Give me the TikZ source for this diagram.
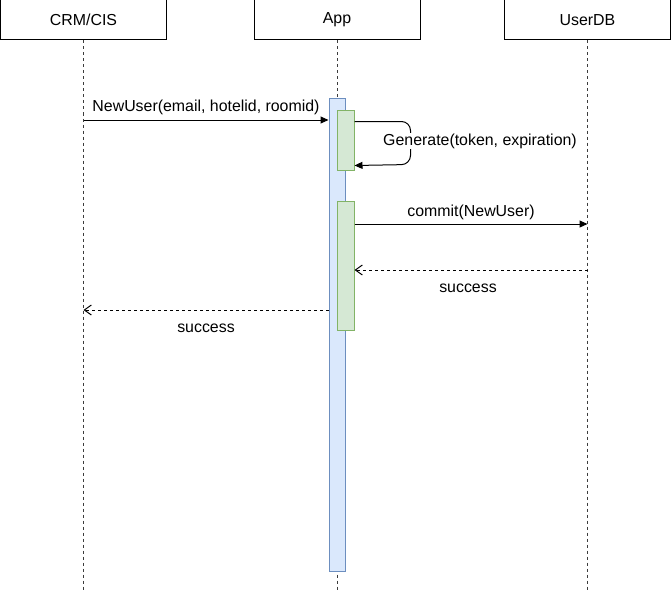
\documentclass[tikz,border=0pt]{standalone}
\usepackage{fontspec}
\setmainfont{Liberation Sans}
\usetikzlibrary{arrows.meta,positioning,calc}
\definecolor{sdBlueL} {HTML}{DAE8FC}
\definecolor{sdBlue}  {HTML}{6C8EBF}
\definecolor{sdGreenL}{HTML}{D5E8D4}
\definecolor{sdGreen} {HTML}{82B366}
\definecolor{sdGrey}  {RGB}{ 60, 60, 60}

\begin{document}
\begin{tikzpicture}[
  x=1pt,y=-1pt,
  font=\fontsize{15.9}{19}\selectfont,
  actor/.style={rectangle,draw=black,fill=white,line width=1pt,
                minimum width=166pt,minimum height=40pt,inner sep=0pt},
  life/.style={draw=sdGrey,line width=1pt,dash pattern=on 3pt off 3pt},
  bar/.style={rectangle,draw=sdBlue,fill=sdBlueL,line width=1pt,
              minimum width=16pt,inner sep=0pt},
  act/.style={rectangle,draw=sdGreen,fill=sdGreenL,line width=1pt,
              minimum width=17pt,inner sep=0pt},
  call/.style={draw=black,line width=1pt,-{Triangle[length=8pt,width=7pt]}},
  reply/.style={draw=black,line width=1pt,dash pattern=on 3pt off 3pt,
                -{Straight Barb[length=7pt,width=10pt]}},
  lbl/.style={inner sep=1pt}
]
\useasboundingbox (0,0) rectangle (671,591);

% --- Lifeline heads
\node[actor] (crm) at (83.5,20) {CRM/CIS};
\node[actor] (app) at (337,20)  {App};
\node[actor] (udb) at (587.5,20) {UserDB};

\coordinate (crmEnd) at (83.5,591);
\coordinate (appEnd) at (337,591);
\coordinate (udbEnd) at (587.5,591);
\draw[life] (crm.south) -- (crmEnd);
\draw[life] (app.south) -- (appEnd);
\draw[life] (udb.south) -- (udbEnd);

% --- Activations on App
\node[bar,minimum height=472pt] (appBar) at (337,335) {};
\node[act,minimum height=59pt]  (act1)   at (345.5,140.5) {};
\node[act,minimum height=129pt] (act2)   at (345.5,265.5) {};

% --- Messages
\coordinate (mNew) at (0,120);
\draw[call] (crm |- mNew) -- (appBar.west |- mNew)
   node[lbl,midway,above=4pt] {NewUser(email, hotelid, roomid)};

\draw[call,rounded corners=9pt] ([yshift=-11pt] act1.north east)
   -- ++(56,0) -- ++(0,43) -- ([yshift=5pt] act1.south east);
\node[lbl,fill=white] (genLbl) at (480,141) {Generate(token, expiration)};

\coordinate (mCommit) at (0,224);
\draw[call] (act2.east |- mCommit) -- (udb |- mCommit)
   node[lbl,midway,above=3pt] {commit(NewUser)};

\coordinate (mOk1) at (0,270);
\draw[reply] (udb |- mOk1) -- (act2.east |- mOk1)
   node[lbl,midway,below=12pt,xshift=-3pt] {success};

\coordinate (mOk2) at (0,310);
\draw[reply] (appBar.west |- mOk2) -- (crm |- mOk2)
   node[lbl,midway,below=12pt] {success};
\end{tikzpicture}
\end{document}
